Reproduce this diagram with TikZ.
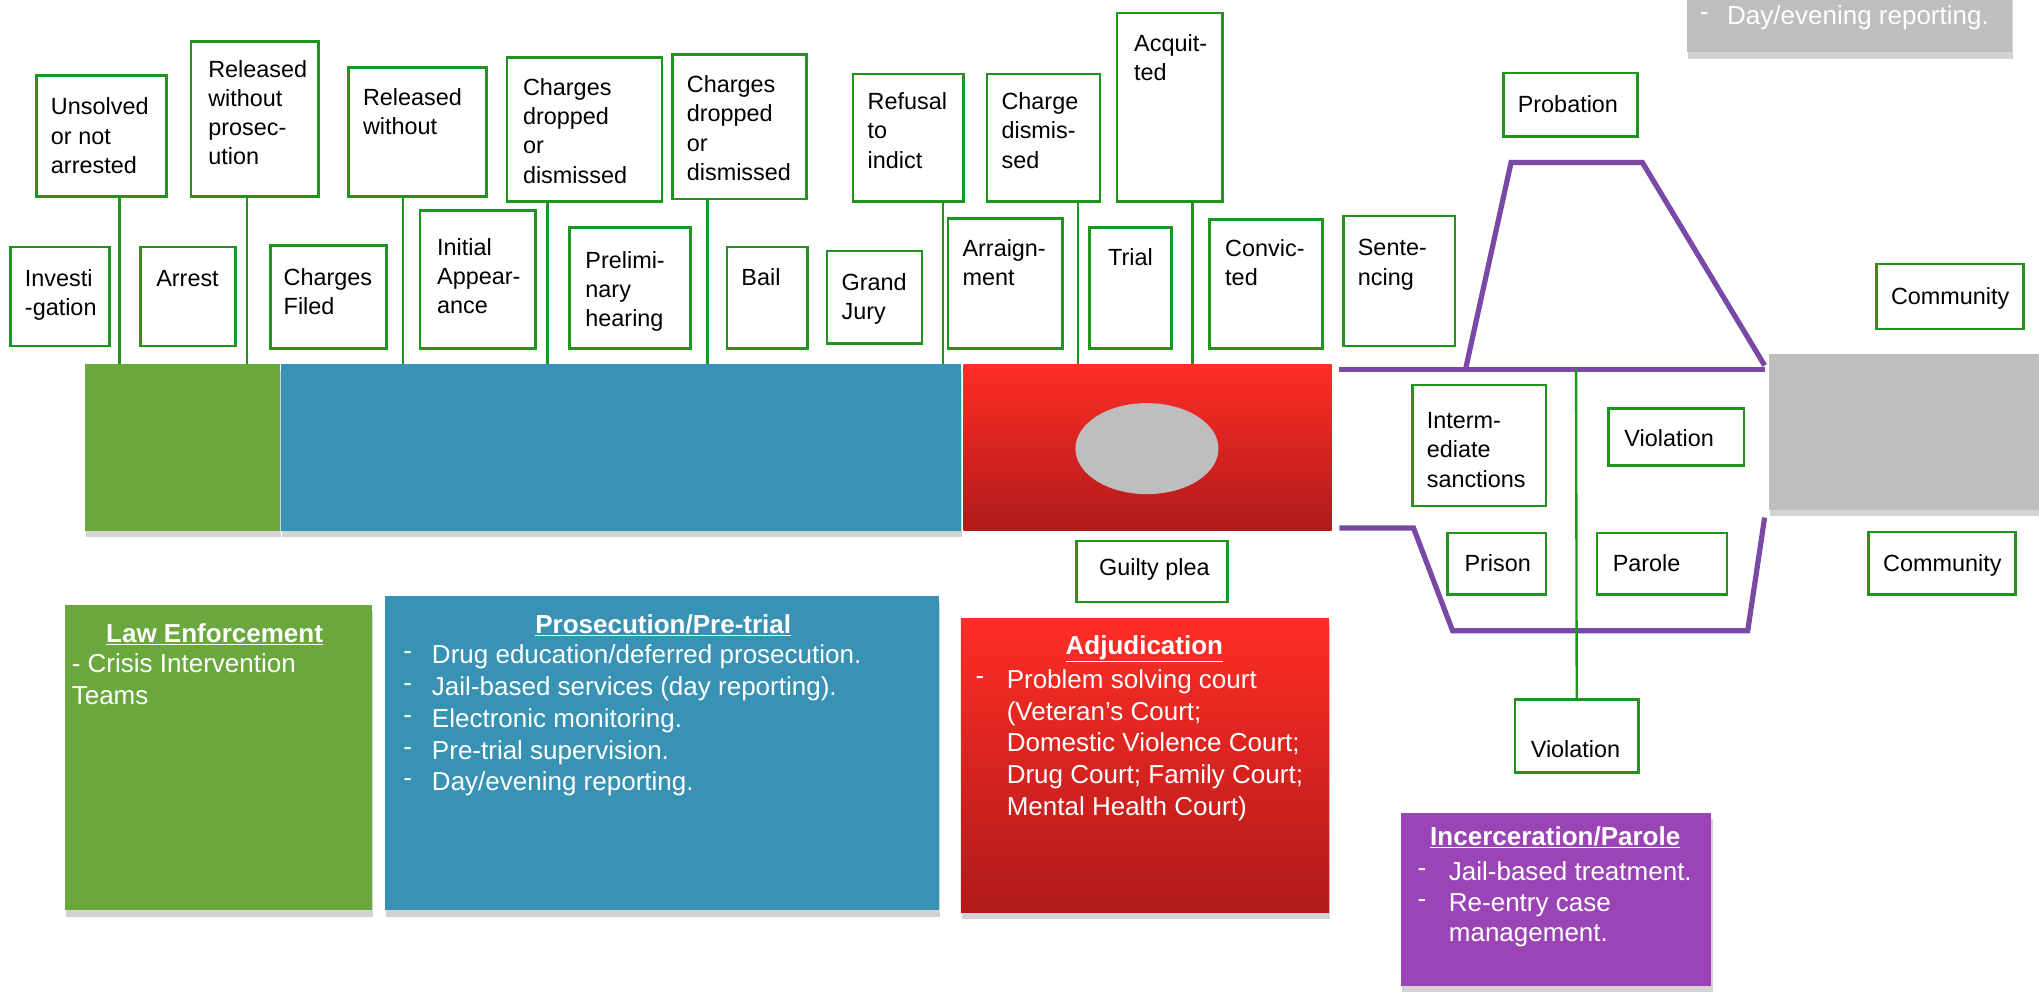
\documentclass[tikz,border=0pt]{standalone}
\usepackage{fontspec}
\setmainfont{Liberation Sans}
\usetikzlibrary{shadows}
\definecolor{gborder}{RGB}{30,150,30}
\definecolor{plinec}{RGB}{122,72,165}
\definecolor{lefill}{RGB}{106,168,62}
\definecolor{prfill}{RGB}{56,146,180}
\definecolor{adtop}{RGB}{255,45,38}
\definecolor{adbot}{RGB}{176,26,26}
\definecolor{icfill}{RGB}{155,68,182}
\definecolor{grfill}{RGB}{190,190,190}
\newcommand\gbox[8]{%
  \node[gb, minimum width={#4-#2}, minimum height={#5-#3}] (#1) at (#2,#3) {};
  \node[btxt] (#1-t) at (#6,{#7-13}) {#8};}
\newcommand\dsh[1]{\makebox[#1pt][l]{\raisebox{3pt}{-}}}
\begin{document}
\begin{tikzpicture}[x=1pt,y=-1pt,
  gb/.style={draw=gborder,line width=2pt,fill=white,inner sep=0pt,outer sep=0pt,anchor=north west},
  btxt/.style={inner sep=0pt,anchor=north west,align=left,font=\fontsize{18}{22.5}\selectfont},
  gline/.style={draw=gborder,line width=1.8pt},
  pline/.style={draw=plinec,line width=4pt,line join=miter},
  bar/.style={inner sep=0pt,outer sep=0pt,anchor=north west},
  shd/.style={drop shadow={shadow xshift=1pt,shadow yshift=-5pt,opacity=0.35}},
  infobox/.style={inner sep=0pt,outer sep=0pt,anchor=north west,shd},
  ttl/.style={text=white,inner sep=0pt,anchor=base,font=\fontsize{20}{25}\bfseries\selectfont},
  itxt/.style={text=white,inner sep=0pt,anchor=north west,align=left,font=\fontsize{20}{24.5}\selectfont},
]
\useasboundingbox (0,0) rectangle (1568,766);

% top-right gray box
\node[infobox, fill=grfill, minimum width=250, minimum height=50] (grtop) at (1297,-10) {};
\node[itxt, anchor=base west] (grtop-t) at (1307,19) {\dsh{21}Day/evening reporting.};

% bars
\node[bar, shd, fill=lefill, minimum width=150, minimum height=128] (barLE) at (65,280) {};
\node[bar, shd, fill=prfill, minimum width=523, minimum height=128] (barPR) at (216,280) {};
\node[bar, top color=adtop, bottom color=adbot, minimum width=283, minimum height=128] (barAD) at (741,280) {};
\fill[grfill] (882,345) ellipse [x radius=55, y radius=35];
\node[bar, shd, fill=grfill, minimum width=215, minimum height=120] (barCM) at (1360,272) {};

% outcome boxes (top row)
\gbox{unsolved}{28}{58}{128}{151}{39}{88}{Unsolved\\or not\\arrested}
\gbox{relprosec}{147}{32}{245}{151}{160}{59}{Released\\without\\prosec-\\ution}
\gbox{relwo}{268}{52}{374}{151}{279}{81}{Released\\without}
\gbox{chdropa}{390}{44}{509}{155}{402}{73}{Charges\\dropped\\or\\dismissed}
\gbox{chdropb}{517}{42}{620}{153}{528}{71}{Charges\\dropped\\or\\dismissed}
\gbox{refusal}{656}{57}{741}{155}{667}{84}{Refusal\\to\\indict}
\gbox{chdism}{759}{57}{846}{155}{770}{84}{Charge\\dismis-\\sed}
\gbox{acquit}{859}{10}{940}{155}{872}{39}{Acquit-\\ted}

% stage boxes
\gbox{invest}{8}{190}{84}{266}{19}{220}{Investi\\-gation}
\gbox{arrest}{108}{190}{181}{266}{120}{221}{Arrest}
\gbox{chfiled}{208}{189}{297}{268}{218}{219}{Charges\\Filed}
\gbox{initapp}{323}{162}{412}{268}{336}{196}{Initial\\Appear-\\ance}
\gbox{prelim}{438}{175}{531}{268}{450}{206}{Prelimi-\\nary\\hearing}
\gbox{bail}{559}{190}{621}{268}{570}{219}{Bail}
\gbox{grandjury}{636}{193}{709}{264}{647}{223}{Grand\\Jury}
\gbox{arraign}{729}{168}{817}{268}{740}{197}{Arraign-\\ment}
\gbox{trial}{838}{175}{901}{268}{852}{204}{Trial}
\gbox{convict}{930}{169}{1017}{268}{942}{197}{Convic-\\ted}
\gbox{sentence}{1033}{166}{1119}{266}{1044}{197}{Sente-\\ncing}

% right side boxes
\gbox{probation}{1156}{56}{1259}{105}{1167}{86}{Probation}
\gbox{comma}{1443}{203}{1556}{253}{1454}{234}{Community}
\gbox{interm}{1086}{296}{1189}{389}{1097}{330}{Interm-\\ediate\\sanctions}
\gbox{viola}{1237}{314}{1341}{358}{1249}{343}{Violation}
\gbox{prison}{1113}{410}{1189}{457}{1126}{439}{Prison}
\gbox{parole}{1228}{410}{1328}{457}{1240}{439}{Parole}
\gbox{commb}{1437}{409}{1550}{457}{1448}{439}{Community}
\gbox{violb}{1165}{538}{1260}{594}{1177}{582}{Violation}
\gbox{guilty}{828}{416}{944}{463}{845}{442}{Guilty plea}

% connectors from outcomes to bars
\draw[gline] ([xshift=14]unsolved.south) -- ([xshift=14]unsolved.south |- barLE.north);
\draw[gline] ([xshift=-6]relprosec.south) -- ([xshift=-6]relprosec.south |- barLE.north);
\draw[gline] ([xshift=-11]relwo.south) -- ([xshift=-11]relwo.south |- barPR.north);
\draw[gline] ([xshift=-28.5]chdropa.south) -- ([xshift=-28.5]chdropa.south |- barPR.north);
\draw[gline] ([xshift=-24.5]chdropb.south) -- ([xshift=-24.5]chdropb.south |- barPR.north);
\draw[gline] ([xshift=26.5]refusal.south) -- ([xshift=26.5]refusal.south |- barPR.north);
\draw[gline] ([xshift=26.5]chdism.south) -- ([xshift=26.5]chdism.south |- barAD.north);
\draw[gline] ([xshift=17.5]acquit.south) -- ([xshift=17.5]acquit.south |- barAD.north);

% purple sentencing paths
\draw[pline] (1030,284) -- (1357,284);
\draw[pline] (1127,284) -- (1162,125) -- (1263,125) -- (1357,281);
\draw[pline] (1030,406) -- (1087,406) -- (1117,485) -- (1344,485) -- (1357,398);
\coordinate (vtop) at (1212,284);
\draw[gline] (vtop) -- (violb.north);

% info boxes
\node[infobox, fill=lefill, minimum width=236, minimum height=235] (lebox) at (50,465) {};
\node[ttl] (lebox-title) at (165,494) {\underline{Law Enforcement}};
\node[itxt] (lebox-t) at (55,{517-14.5}) {- Crisis Intervention\\Teams};

\node[infobox, fill=prfill, minimum width=426, minimum height=242] (prbox) at (296,458) {};
\node[ttl] (prbox-title) at (510,487) {\underline{Prosecution/Pre-trial}};
\node[itxt] (prbox-t) at (310,{510-14.5}) {\dsh{22}Drug education/deferred prosecution.\\\dsh{22}Jail-based services (day reporting).\\\dsh{22}Electronic monitoring.\\\dsh{22}Pre-trial supervision.\\\dsh{22}Day/evening reporting.};

\node[infobox, top color=adtop, bottom color=adbot, minimum width=283, minimum height=226] (adbox) at (739,476) {};
\node[ttl] (adbox-title) at (880,503) {\underline{Adjudication}};
\node[itxt] (adbox-t) at (750,{529-14.5}) {\dsh{24}Problem solving court\\\hspace*{24pt}(Veteran’s Court;\\\hspace*{24pt}Domestic Violence Court;\\\hspace*{24pt}Drug Court; Family Court;\\\hspace*{24pt}Mental Health Court)};

\node[infobox, fill=icfill, minimum width=239, minimum height=133] (icbox) at (1077,625) {};
\node[ttl] (icbox-title) at (1196,650) {\underline{Incerceration/Parole}};
\node[itxt, font=\fontsize{20}{23.5}\selectfont] (icbox-t) at (1090,{677-14.5}) {\dsh{24}Jail-based treatment.\\\dsh{24}Re-entry case\\\hspace*{24pt}management.};
\end{tikzpicture}
\end{document}
